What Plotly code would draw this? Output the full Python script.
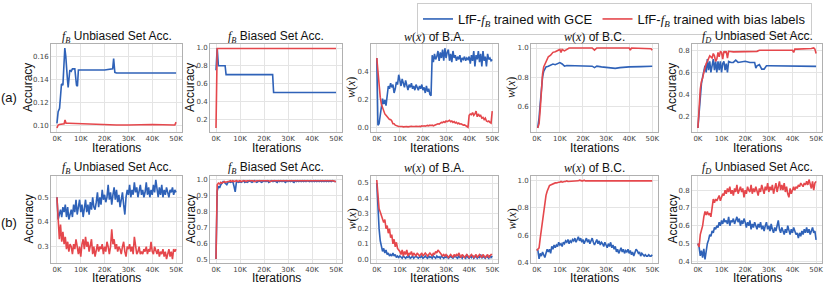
import plotly.graph_objects as go

W, H = 824, 286
BLUE = "#2f62b8"
RED = "#e5474c"

# iteration grid in thousands (0K .. 50K, 0.5K step)
GRID = [i * 0.5 for i in range(101)]

X_TICKS = [0, 10, 20, 30, 40, 50]
X_TICKTEXT = ["0K", "10K", "20K", "30K", "40K", "50K"]

# ---------------- row (a) ----------------
A1_BLUE_X = [0, 0.5, 1.1, 1.5, 1.9, 2.5, 2.9, 3.3, 3.7, 4.0, 4.4, 4.7, 5.1, 5.4, 6.0, 6.5, 7.5, 7.8, 8.2, 8.6, 9.0, 10, 20, 23.4, 23.8, 24.3, 25, 50]
A1_BLUE_Y = [0.102, 0.112, 0.115, 0.128, 0.136, 0.135, 0.155, 0.167, 0.160, 0.148, 0.140, 0.133, 0.145, 0.148, 0.147, 0.149, 0.149, 0.140, 0.135, 0.134, 0.148, 0.148, 0.148, 0.149, 0.158, 0.146, 0.1455, 0.1455]
A1_RED_X = [0, 0.5, 1, 2, 3, 3.4, 3.8, 5, 10, 15, 20, 25, 30, 40, 49, 49.5, 50]
A1_RED_Y = [0.098, 0.1005, 0.101, 0.101, 0.1015, 0.105, 0.102, 0.102, 0.1015, 0.1015, 0.1005, 0.1005, 0.1005, 0.101, 0.1005, 0.1005, 0.103]

A2_BLUE_X = [0, 0.5, 1, 3.8, 4.2, 23.6, 24.0, 50]
A2_BLUE_Y = [0.75, 1.0, 0.8, 0.8, 0.7, 0.7, 0.5, 0.5]
A2_RED_X = [0, 0.5, 50]
A2_RED_Y = [0.1, 0.995, 0.995]

A3_BLUE = [0.50, 0.02, 0.03, 0.10, 0.15, 0.21, 0.17, 0.20, 0.16, 0.25,
           0.30, 0.28, 0.32, 0.29, 0.31, 0.25, 0.28, 0.33, 0.31, 0.38,
           0.33, 0.30, 0.35, 0.31, 0.29, 0.34, 0.30, 0.27, 0.31, 0.29,
           0.32, 0.28, 0.30, 0.27, 0.31, 0.29, 0.27, 0.30, 0.28, 0.31,
           0.27, 0.29, 0.25, 0.30, 0.26, 0.28, 0.24, 0.23, 0.52, 0.47,
           0.53, 0.49, 0.51, 0.55, 0.48, 0.54, 0.50, 0.56, 0.48, 0.57,
           0.50, 0.54, 0.56, 0.48, 0.53, 0.47, 0.55, 0.50, 0.52, 0.48,
           0.51, 0.49, 0.52, 0.47, 0.50, 0.49, 0.51, 0.48, 0.50, 0.49,
           0.51, 0.46, 0.52, 0.48, 0.55, 0.44, 0.52, 0.49, 0.55, 0.47,
           0.53, 0.44, 0.55, 0.48, 0.51, 0.44, 0.53, 0.49, 0.50, 0.48,
           0.49]
A3_RED = [0.50, 0.40, 0.30, 0.22, 0.17, 0.14, 0.13, 0.10, 0.09, 0.08,
          0.07, 0.06, 0.06, 0.05, 0.03, 0.03, 0.02, 0.015, 0.01, 0.01,
          0.01, 0.012, 0.01, 0.008, 0.01, 0.012, 0.01, 0.008, 0.01, 0.01,
          0.012, 0.01, 0.008, 0.01, 0.012, 0.01, 0.01, 0.012, 0.01, 0.015,
          0.012, 0.015, 0.012, 0.015, 0.018, 0.015, 0.02, 0.018, 0.02, 0.015,
          0.02, 0.022, 0.025, 0.03, 0.028, 0.035, 0.04, 0.038, 0.045, 0.04,
          0.05, 0.045, 0.05, 0.055, 0.045, 0.05, 0.04, 0.045, 0.035, 0.04,
          0.03, 0.035, 0.028, 0.03, 0.025, 0.02, 0.022, 0.015, 0.01, 0.005,
          0.09, 0.10, 0.095, 0.11, 0.09, 0.10, 0.12, 0.08, 0.10, 0.085,
          0.09, 0.07, 0.075, 0.06, 0.07, 0.05, 0.045, 0.05, 0.04, 0.035,
          0.12]

A4_BLUE_X = [0.4, 1, 1.5, 2, 2.5, 3, 3.5, 4, 5, 6, 7, 8, 9, 10, 11, 12, 13, 15, 20, 24, 25, 26, 28, 30, 32, 34, 36, 38, 40, 45, 50]
A4_BLUE_Y = [0.45, 0.52, 0.62, 0.72, 0.80, 0.84, 0.86, 0.87, 0.875, 0.88, 0.89, 0.885, 0.89, 0.90, 0.89, 0.875, 0.88, 0.88, 0.88, 0.875, 0.865, 0.875, 0.87, 0.865, 0.86, 0.86, 0.865, 0.87, 0.87, 0.872, 0.875]
A4_RED_X = [0.4, 1, 1.5, 2, 2.5, 3, 4, 5, 6, 7, 8, 9, 10, 10.5, 11, 12, 13, 14, 20, 24, 25, 26, 40, 40.5, 41, 49, 49.5, 50]
A4_RED_Y = [0.45, 0.48, 0.58, 0.72, 0.82, 0.87, 0.90, 0.94, 0.95, 0.97, 0.975, 0.98, 0.99, 0.97, 0.99, 0.98, 0.99, 1.0, 1.0, 1.0, 0.985, 1.0, 1.0, 0.985, 1.0, 1.0, 0.995, 0.985]

A5_BLUE_X = [0, 0.5, 1, 1.5, 2, 2.5, 3, 3.5, 4, 4.5, 5, 5.5, 6, 6.5, 7, 7.5, 8, 8.5, 9, 9.5, 10, 10.5, 11, 11.5, 12, 12.5, 13,
             14, 15, 16, 17, 18, 20, 22, 24, 24.5, 25, 26, 27, 28, 29, 30, 35, 40, 45, 50]
A5_BLUE_Y = [0.10, 0.25, 0.40, 0.50, 0.56, 0.62, 0.66, 0.60, 0.72, 0.62, 0.70, 0.60, 0.68, 0.72, 0.62, 0.70, 0.60, 0.70, 0.62, 0.70,
             0.60, 0.68, 0.70, 0.62, 0.68, 0.60, 0.70, 0.69, 0.69, 0.71, 0.69, 0.695, 0.70, 0.69, 0.69, 0.64, 0.66, 0.67, 0.63, 0.63,
             0.66, 0.66, 0.66, 0.66, 0.66, 0.655]
A5_RED_X = [0, 0.5, 1, 1.5, 2, 2.5, 3, 3.5, 4, 4.5, 5, 5.5, 6, 6.5, 7, 7.5, 8, 8.5, 9, 9.5, 10, 10.5, 11, 11.5, 12, 12.5, 13,
            15, 20, 25, 26, 30, 35, 40, 40.5, 41, 42, 45, 48, 49, 49.5, 50]
A5_RED_Y = [0.10, 0.30, 0.45, 0.52, 0.55, 0.60, 0.65, 0.68, 0.70, 0.72, 0.75, 0.74, 0.73, 0.77, 0.75, 0.70, 0.72, 0.78, 0.74, 0.79,
            0.78, 0.72, 0.79, 0.78, 0.79, 0.73, 0.79, 0.785, 0.785, 0.79, 0.80, 0.80, 0.80, 0.80, 0.78, 0.81, 0.81, 0.81, 0.815, 0.82,
            0.81, 0.77]

# ---------------- row (b) ----------------
B1_BLUE = [0.50, 0.41, 0.43, 0.45, 0.42, 0.46, 0.44, 0.47, 0.42, 0.46,
           0.41, 0.43, 0.45, 0.42, 0.47, 0.44, 0.49, 0.43, 0.46, 0.49,
           0.44, 0.47, 0.42, 0.45, 0.49, 0.44, 0.47, 0.43, 0.48, 0.45,
           0.50, 0.46, 0.45, 0.48, 0.52, 0.46, 0.50, 0.47, 0.53, 0.49,
           0.51, 0.48, 0.50, 0.55, 0.49, 0.52, 0.47, 0.51, 0.54, 0.49,
           0.53, 0.48, 0.51, 0.46, 0.49, 0.52, 0.47, 0.43, 0.50, 0.53,
           0.51, 0.55, 0.50, 0.53, 0.51, 0.56, 0.52, 0.54, 0.50, 0.53,
           0.55, 0.51, 0.53, 0.50, 0.52, 0.56, 0.51, 0.54, 0.50, 0.53,
           0.51, 0.55, 0.52, 0.57, 0.53, 0.50, 0.54, 0.51, 0.55, 0.50,
           0.53, 0.51, 0.54, 0.52, 0.50, 0.53, 0.52, 0.54, 0.51, 0.53,
           0.52]
B1_RED = [0.50, 0.42, 0.33, 0.39, 0.32, 0.36, 0.31, 0.34, 0.29, 0.32,
          0.28, 0.31, 0.30, 0.27, 0.31, 0.29, 0.33, 0.30, 0.27, 0.30,
          0.26, 0.31, 0.33, 0.29, 0.34, 0.30, 0.32, 0.28, 0.31, 0.33,
          0.27, 0.30, 0.26, 0.29, 0.31, 0.28, 0.30, 0.29, 0.31, 0.27,
          0.30, 0.28, 0.32, 0.30, 0.27, 0.30, 0.37, 0.31, 0.33, 0.29,
          0.31, 0.28, 0.30, 0.29, 0.27, 0.30, 0.32, 0.28, 0.26, 0.30,
          0.29, 0.31, 0.28, 0.30, 0.27, 0.34, 0.29, 0.27, 0.28, 0.30,
          0.27, 0.28, 0.27, 0.29, 0.28, 0.30, 0.27, 0.29, 0.28, 0.32,
          0.28, 0.27, 0.30, 0.28, 0.27, 0.29, 0.26, 0.28, 0.27, 0.29,
          0.26, 0.28, 0.25, 0.27, 0.29, 0.26, 0.28, 0.25, 0.29, 0.28,
          0.29]

B2_BLUE = [0.50, 0.93, 0.96, 0.95, 0.97, 0.98, 0.99, 0.985, 0.975, 0.97,
           0.985, 0.99, 0.985, 0.99, 0.99, 0.96, 0.925, 0.985, 0.99, 0.985,
           0.99, 0.985, 0.99, 0.995, 0.985, 0.99, 0.985, 0.99, 0.995, 0.99,
           0.985, 0.99, 0.995, 0.99, 0.985, 0.99, 0.995, 0.99, 0.985, 0.99,
           0.995, 0.99, 0.99, 0.995, 0.985, 0.99, 0.995, 0.99, 0.99, 0.995,
           0.99, 0.985, 0.995, 0.99, 0.995, 0.99, 0.995, 0.99, 0.985, 0.995,
           0.99, 0.995, 0.99, 0.995, 0.99, 0.985, 0.995, 0.99, 0.995, 0.99,
           0.995, 0.99, 0.995, 0.99, 0.995, 0.99, 0.995, 0.99, 0.99, 0.995,
           0.99, 0.995, 0.99, 0.995, 0.99, 0.995, 0.99, 0.995, 0.99, 0.995,
           0.99, 0.995, 0.99, 0.995, 0.99, 0.995, 0.99, 0.995, 0.99, 0.99,
           0.99]
B2_RED = [0.50, 0.97, 0.98, 0.975, 0.985, 0.98, 0.985, 0.99, 0.985, 0.99,
          0.99, 0.99, 0.995, 0.99, 0.995, 0.99, 0.995, 0.995, 0.99, 0.995,
          0.995, 0.99, 0.995, 0.995, 0.995, 0.99, 0.995, 0.995, 0.995, 0.995,
          0.995, 0.995, 0.99, 0.995, 0.995, 0.995, 0.995, 0.995, 0.995, 0.995,
          0.995, 0.995, 0.995, 0.995, 0.995, 0.99, 0.995, 0.995, 0.995, 0.995,
          0.995, 0.995, 0.995, 0.995, 0.995, 0.995, 0.995, 0.995, 0.995, 0.995,
          0.995, 0.995, 0.995, 0.995, 0.995, 0.995, 0.995, 0.995, 0.995, 0.995,
          0.995, 0.995, 0.995, 0.995, 0.995, 0.995, 0.995, 0.995, 0.995, 0.995,
          0.995, 0.995, 0.995, 0.995, 0.995, 0.995, 0.995, 0.995, 0.995, 0.995,
          0.995, 0.995, 0.995, 0.995, 0.995, 0.995, 0.995, 0.995, 0.995, 0.99,
          0.99]

B3_BLUE = [0.50, 0.30, 0.20, 0.12, 0.08, 0.05, 0.07, 0.04, 0.06, 0.03,
           0.04, 0.02, 0.03, 0.02, 0.04, 0.02, 0.03, 0.01, 0.02, 0.01,
           0.02, 0.01, 0.005, 0.02, 0.01, 0.005, 0.015, 0.01, 0.02, 0.005,
           0.01, 0.02, 0.005, 0.01, 0.02, 0.01, 0.005, 0.015, 0.01, 0.02,
           0.005, 0.01, 0.02, 0.01, 0.005, 0.02, 0.01, 0.015, 0.005, 0.02,
           0.01, 0.005, 0.02, 0.01, 0.015, 0.005, 0.02, 0.01, 0.005, 0.015,
           0.01, 0.02, 0.005, 0.01, 0.02, 0.01, 0.005, 0.015, 0.02, 0.01,
           0.005, 0.02, 0.01, 0.015, 0.005, 0.02, 0.01, 0.005, 0.03, 0.01,
           0.005, 0.02, 0.01, 0.025, 0.005, 0.01, 0.02, 0.005, 0.015, 0.01,
           0.03, 0.005, 0.02, 0.01, 0.005, 0.02, 0.01, 0.005, 0.025, 0.01,
           0.02]
B3_RED = [0.52, 0.40, 0.33, 0.31, 0.29, 0.27, 0.24, 0.26, 0.20, 0.22,
          0.17, 0.20, 0.14, 0.16, 0.10, 0.13, 0.08, 0.11, 0.07, 0.06,
          0.05, 0.03, 0.06, 0.02, 0.05, 0.03, 0.06, 0.02, 0.04, 0.03,
          0.05, 0.02, 0.04, 0.03, 0.02, 0.04, 0.03, 0.02, 0.03, 0.04,
          0.02, 0.03, 0.04, 0.03, 0.02, 0.03, 0.04, 0.03, 0.02, 0.04,
          0.03, 0.05, 0.04, 0.06, 0.05, 0.04, 0.03, 0.02, 0.03, 0.02,
          0.03, 0.02, 0.01, 0.02, 0.03, 0.02, 0.01, 0.03, 0.02, 0.03,
          0.02, 0.04, 0.02, 0.01, 0.03, 0.02, 0.01, 0.02, 0.03, 0.02,
          0.01, 0.02, 0.03, 0.02, 0.01, 0.02, 0.03, 0.01, 0.02, 0.03,
          0.02, 0.01, 0.03, 0.02, 0.01, 0.02, 0.03, 0.01, 0.02, 0.03,
          0.03]

B4_BLUE = [0.50, 0.49, 0.43, 0.47, 0.45, 0.48, 0.46, 0.44, 0.47, 0.50,
           0.48, 0.50, 0.47, 0.52, 0.50, 0.53, 0.51, 0.53, 0.52, 0.55,
           0.53, 0.54, 0.52, 0.55, 0.54, 0.56, 0.55, 0.57, 0.54, 0.56,
           0.55, 0.57, 0.56, 0.58, 0.55, 0.57, 0.59, 0.56, 0.58, 0.55,
           0.57, 0.54, 0.56, 0.58, 0.55, 0.57, 0.54, 0.56, 0.58, 0.55,
           0.53, 0.55, 0.57, 0.54, 0.56, 0.53, 0.55, 0.54, 0.52, 0.55,
           0.53, 0.51, 0.54, 0.52, 0.55, 0.51, 0.53, 0.50, 0.52, 0.48,
           0.50, 0.47, 0.49, 0.51, 0.48, 0.50, 0.47, 0.49, 0.48, 0.50,
           0.47, 0.49, 0.46, 0.48, 0.45, 0.48, 0.50, 0.49, 0.47, 0.48,
           0.45, 0.47, 0.46, 0.45, 0.46, 0.45, 0.45, 0.46, 0.45, 0.45,
           0.46]
B4_RED = [0.49, 0.50, 0.51, 0.58, 0.65, 0.72, 0.78, 0.84, 0.89, 0.92,
          0.95, 0.96, 0.965, 0.97, 0.975, 0.975, 0.98, 0.98, 0.985, 0.985,
          0.985, 0.99, 0.985, 0.99, 0.99, 0.99, 0.995, 0.99, 0.99, 0.995,
          0.99, 0.995, 0.995, 0.99, 0.995, 0.995, 0.995, 1.0, 0.995, 0.995,
          0.995, 1.0, 0.995, 0.995, 1.0, 0.995, 0.995, 1.0, 0.995, 1.0,
          0.995, 0.995, 1.0, 0.995, 1.0, 0.995, 0.995, 1.0, 1.0, 0.995,
          1.0, 0.995, 1.0, 1.0, 0.995, 1.0, 0.995, 1.0, 1.0, 0.995,
          1.0, 1.0, 0.995, 1.0, 1.0, 0.995, 1.0, 1.0, 1.0, 0.995,
          1.0, 1.0, 1.0, 0.995, 1.0, 1.0, 1.0, 1.0, 0.995, 1.0,
          1.0, 1.0, 1.0, 1.0, 0.995, 1.0, 1.0, 1.0, 1.0, 0.995,
          0.995]

B5_BLUE = [0.50, 0.48, 0.43, 0.46, 0.42, 0.47, 0.41, 0.46, 0.50, 0.52,
           0.55, 0.54, 0.57, 0.56, 0.59, 0.58, 0.60, 0.59, 0.62, 0.60,
           0.63, 0.61, 0.64, 0.62, 0.63, 0.61, 0.65, 0.60, 0.63, 0.62,
           0.64, 0.61, 0.63, 0.65, 0.62, 0.64, 0.60, 0.63, 0.61, 0.64,
           0.62, 0.59, 0.62, 0.60, 0.63, 0.58, 0.61, 0.59, 0.62, 0.60,
           0.58, 0.61, 0.59, 0.62, 0.58, 0.60, 0.57, 0.60, 0.62, 0.58,
           0.60, 0.57, 0.61, 0.58, 0.56, 0.59, 0.57, 0.60, 0.63, 0.58,
           0.56, 0.59, 0.57, 0.55, 0.58, 0.56, 0.60, 0.57, 0.55, 0.58,
           0.56, 0.59, 0.57, 0.55, 0.56, 0.53, 0.56, 0.54, 0.57, 0.55,
           0.58, 0.56, 0.59, 0.56, 0.58, 0.55, 0.57, 0.59, 0.56, 0.57,
           0.52]
B5_RED = [0.50, 0.48, 0.55, 0.58, 0.60, 0.65, 0.68, 0.66, 0.68, 0.66,
          0.67, 0.65, 0.70, 0.75, 0.73, 0.75, 0.74, 0.76, 0.77, 0.74,
          0.76, 0.78, 0.77, 0.80, 0.78, 0.81, 0.79, 0.82, 0.78, 0.80,
          0.77, 0.81, 0.79, 0.83, 0.78, 0.80, 0.82, 0.79, 0.81, 0.76,
          0.80, 0.78, 0.82, 0.80, 0.79, 0.83, 0.78, 0.81, 0.79, 0.82,
          0.80, 0.77, 0.81, 0.79, 0.83, 0.80, 0.78, 0.82, 0.80, 0.84,
          0.79, 0.82, 0.80, 0.83, 0.78, 0.81, 0.84, 0.79, 0.82, 0.85,
          0.80, 0.83, 0.80, 0.84, 0.79, 0.82, 0.78, 0.76, 0.81, 0.78,
          0.80, 0.82, 0.80, 0.82, 0.81, 0.83, 0.82, 0.84, 0.83, 0.82,
          0.84, 0.83, 0.85, 0.83, 0.86, 0.84, 0.81, 0.85, 0.80, 0.84,
          0.85]

FB = "<span style='font-family:Liberation Serif'><i>f</i><sub><i>B</i></sub></span>"
FD = "<span style='font-family:Liberation Serif'><i>f</i><sub><i>D</i></sub></span>"
WX = "<span style='font-family:Liberation Serif'><i>w</i>(<i>x</i>)</span>"

T_UNB_B = FB + " Unbiased Set Acc."
T_BIA_B = FB + " Biased Set Acc."
T_WBA = WX + " of B.A."
T_WBC = WX + " of B.C."
T_UNB_D = FD + " Unbiased Set Acc."

LEGEND_BLUE = "LfF-" + FB + " trained with GCE"
LEGEND_RED = "LfF-" + FB + " trained with bias labels"

PANELS = [
    # row, col, title, ylabel, yrange, yticks, fmt, bx, by, rx, ry
    (0, 0, T_UNB_B, "Accuracy", [0.0945, 0.1705], [0.10, 0.12, 0.14, 0.16], ".2f", A1_BLUE_X, A1_BLUE_Y, A1_RED_X, A1_RED_Y),
    (0, 1, T_BIA_B, "Accuracy", [0.055, 1.045], [0.2, 0.4, 0.6, 0.8, 1.0], ".1f", A2_BLUE_X, A2_BLUE_Y, A2_RED_X, A2_RED_Y),
    (0, 2, T_WBA, WX, [-0.029, 0.60], [0.0, 0.2, 0.4], ".1f", GRID, A3_BLUE, GRID, A3_RED),
    (0, 3, T_WBC, WX, [0.4225, 1.0275], [0.6, 0.8, 1.0], ".1f", A4_BLUE_X, A4_BLUE_Y, A4_RED_X, A4_RED_Y),
    (0, 4, T_UNB_D, "Accuracy", [0.064, 0.856], [0.2, 0.4, 0.6, 0.8], ".1f", A5_BLUE_X, A5_BLUE_Y, A5_RED_X, A5_RED_Y),
    (1, 0, T_UNB_B, "Accuracy", [0.234, 0.586], [0.3, 0.4, 0.5], ".1f", GRID, B1_BLUE, GRID, B1_RED),
    (1, 1, T_BIA_B, "Accuracy", [0.475, 1.025], [0.5, 0.6, 0.7, 0.8, 0.9, 1.0], ".1f", GRID, B2_BLUE, GRID, B2_RED),
    (1, 2, T_WBA, WX, [-0.026, 0.546], [0.0, 0.1, 0.2, 0.3, 0.4, 0.5], ".1f", GRID, B3_BLUE, GRID, B3_RED),
    (1, 3, T_WBC, WX, [0.4, 1.03], [0.4, 0.6, 0.8, 1.0], ".1f", GRID, B4_BLUE, GRID, B4_RED),
    (1, 4, T_UNB_D, "Accuracy", [0.39, 0.88], [0.4, 0.5, 0.6, 0.7, 0.8], ".1f", GRID, B5_BLUE, GRID, B5_RED),
]

# layout geometry in pixels
COL_PX = [(51, 182), (210, 342), (371, 498), (531, 658), (692, 822)]
ROW_PX = [(44, 132), (176, 263)]
TITLE_Y = [37, 168]
XLABEL_Y = [148, 278]
ROW_LABELS = ["(a)", "(b)"]
ROW_LABEL_Y = [97, 222]


def px_x(v):
    return v / W


def px_y(v):
    return 1 - v / H


fig = go.Figure()
layout = dict(
    width=W, height=H,
    margin=dict(l=0, r=0, t=0, b=0, autoexpand=False),
    paper_bgcolor="white", plot_bgcolor="white",
    font=dict(family="Liberation Sans", color="#222"),
    showlegend=True,
    legend=dict(
        orientation="h", x=px_x(417), y=px_y(3), xanchor="left", yanchor="top",
        bordercolor="#cccccc", borderwidth=1, bgcolor="white",
        font=dict(family="Liberation Sans", size=13, color="#111"),
        itemwidth=30, tracegroupgap=0,
    ),
)
annotations = []

for i, (row, col, title, ylabel, yr, yt, fmt, bx, by, rx, ry) in enumerate(PANELS):
    n = i + 1
    xa = "x" if n == 1 else f"x{n}"
    ya = "y" if n == 1 else f"y{n}"
    x0, x1 = COL_PX[col]
    y0, y1 = ROW_PX[row]
    fig.add_trace(go.Scatter(x=bx, y=by, mode="lines", line=dict(color=BLUE, width=1.6),
                             name=LEGEND_BLUE, showlegend=(n == 1), xaxis=xa, yaxis=ya))
    fig.add_trace(go.Scatter(x=rx, y=ry, mode="lines", line=dict(color=RED, width=1.6),
                             name=LEGEND_RED, showlegend=(n == 1), xaxis=xa, yaxis=ya))
    axis_common = dict(showline=True, mirror=True, linecolor="#b0b0b0", linewidth=1,
                       showgrid=True, gridcolor="#e4e4e4", gridwidth=1, zeroline=False,
                       automargin=False,
                       ticks="", tickfont=dict(family="DejaVu Sans", size=7, color="#444"))
    layout["xaxis" if n == 1 else f"xaxis{n}"] = dict(
        axis_common, domain=[px_x(x0), px_x(x1)], anchor=ya, range=[-2.5, 52.5],
        tickmode="array", tickvals=X_TICKS, ticktext=X_TICKTEXT)
    layout["yaxis" if n == 1 else f"yaxis{n}"] = dict(
        axis_common, domain=[px_y(y1), px_y(y0)], anchor=xa, range=yr,
        tickmode="array", tickvals=yt, tickformat=fmt)
    # title
    annotations.append(dict(text=title, x=px_x((x0 + x1) / 2), y=px_y(TITLE_Y[row]), xref="paper", yref="paper",
                            xanchor="center", yanchor="middle", showarrow=False,
                            font=dict(family="Liberation Sans", size=12, color="#111")))
    # y label
    off = 23 if col == 0 else 20
    annotations.append(dict(text=ylabel, x=px_x(x0 - off), y=px_y((y0 + y1) / 2), xref="paper", yref="paper",
                            xanchor="center", yanchor="middle", textangle=-90, showarrow=False,
                            font=dict(family="Liberation Sans", size=12, color="#111")))
    # x label
    annotations.append(dict(text="Iterations", x=px_x((x0 + x1) / 2), y=px_y(XLABEL_Y[row]), xref="paper", yref="paper",
                            xanchor="center", yanchor="middle", showarrow=False,
                            font=dict(family="Liberation Sans", size=12, color="#111")))

for r in range(2):
    annotations.append(dict(text=ROW_LABELS[r], x=px_x(9), y=px_y(ROW_LABEL_Y[r]), xref="paper", yref="paper",
                            xanchor="center", yanchor="middle", showarrow=False,
                            font=dict(family="Liberation Sans", size=13, color="#111")))

layout["annotations"] = annotations
fig.update_layout(**layout)
fig.write_html("out.html", config={"displayModeBar": False},
               post_script="document.body.style.margin='0';document.body.style.overflow='hidden';")
